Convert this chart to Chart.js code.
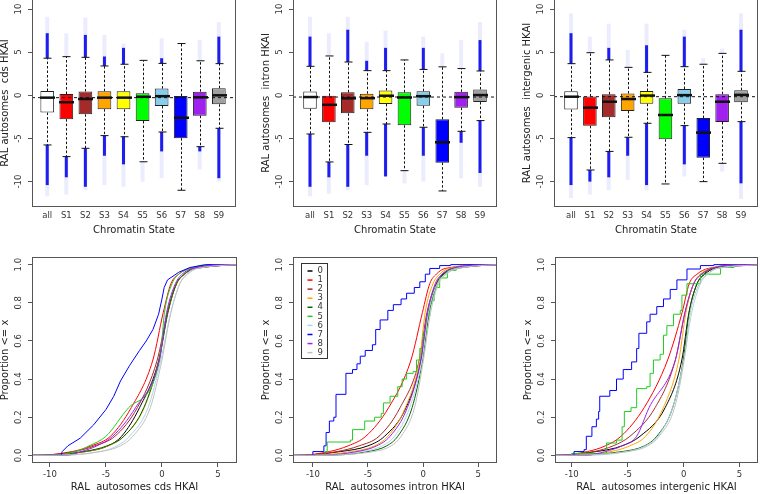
<!DOCTYPE html>
<html lang="en">
<head>
<meta charset="UTF-8" />
<title>HKAI by chromatin state</title>
<script src="https://cdn.jsdelivr.net/npm/chart.js"></script>
<style>
  html, body { margin: 0; padding: 0; background: #fff; }
  body { width: 760px; height: 494px; position: relative; overflow: hidden; }
  canvas { position: absolute; }
</style>
</head>
<body>
<canvas id="boxCds"></canvas>
<canvas id="boxIntron"></canvas>
<canvas id="boxInter"></canvas>
<canvas id="ecdfCds"></canvas>
<canvas id="ecdfIntron"></canvas>
<canvas id="ecdfInter"></canvas>
<script>
const STATES = ['all', 'S1', 'S2', 'S3', 'S4', 'S5', 'S6', 'S7', 'S8', 'S9'];
const CURVE_LABELS = ['0', '1', '2', '3', '4', '5', '6', '7', '8', '9'];
const BOX_Y_TICKS = [-10, -5, 0, 5, 10];
const ECDF_X_TICKS = [-10, -5, 0, 5];
const ECDF_Y_TICKS = [0, 0.2, 0.4, 0.6, 0.8, 1];
// proportion levels of the quantile rows below
const PROBS = [0, 0.02, 0.05, 0.1, 0.25, 0.5, 0.75, 0.9, 0.95, 0.98, 1];

// boxplots: [lower whisker, Q1, median, Q3, upper whisker]
const cdsBox = [
  [-5.75, -2.0, -0.27, 0.5, 4.3],
  [-7.1, -2.76, -0.8, 0.15, 4.48],
  [-6.14, -2.2, -0.43, 0.45, 4.4],
  [-4.67, -1.6, -0.27, 0.48, 3.4],
  [-4.8, -1.62, -0.27, 0.48, 3.6],
  [-7.7, -2.98, -0.17, 0.25, 4.05],
  [-4.25, -1.24, -0.1, 0.78, 3.7],
  [-11.0, -4.96, -2.6, -0.08, 6.0],
  [-5.95, -2.36, -0.23, 0.42, 4.0],
  [-3.82, -1.04, 0.0, 0.82, 3.67]
];
const intronBox = [
  [-4.48, -1.55, -0.2, 0.45, 3.36],
  [-7.72, -3.13, -1.1, -0.06, 4.56],
  [-5.7, -2.09, -0.35, 0.35, 3.86],
  [-4.29, -1.62, -0.33, 0.19, 2.86],
  [-3.32, -1.0, -0.05, 0.56, 2.86],
  [-8.73, -3.47, -0.25, 0.35, 4.1],
  [-3.7, -1.22, -0.1, 0.48, 3.0],
  [-11.08, -7.8, -5.44, -2.78, 3.3],
  [-4.17, -1.43, -0.21, 0.4, 3.1],
  [-2.93, -0.78, 0.03, 0.68, 2.82]
];
const intergenicBox = [
  [-4.9, -1.65, -0.16, 0.48, 3.67],
  [-8.65, -3.53, -1.43, -0.13, 4.94],
  [-6.5, -2.55, -0.74, 0.12, 4.1],
  [-4.86, -1.81, -0.43, 0.21, 3.24],
  [-3.24, -0.98, -0.03, 0.5, 2.66],
  [-10.27, -5.1, -2.28, -0.35, 4.63],
  [-3.51, -0.98, 0.02, 0.73, 3.32],
  [-10.0, -7.22, -4.32, -2.63, 3.6],
  [-7.88, -3.09, -0.74, 0.13, 4.86],
  [-3.05, -0.81, 0.05, 0.6, 2.78]
];

// outliers: [lowest, end of dense low run, end of dense high run, highest]
const cdsOut = [
  [-11.7, -10.4, 7.2, 9.1],
  [-11.5, -9.5, 4.48, 7.2],
  [-11.0, -10.6, 7.0, 9.0],
  [-10.4, -7.0, 4.5, 7.0],
  [-10.6, -8.0, 5.5, 6.0],
  [-10.0, -7.7, 4.05, 4.05],
  [-9.6, -6.5, 4.3, 6.6],
  [-11.0, -11.0, 6.0, 6.0],
  [-8.6, -6.5, 4.0, 6.4],
  [-10.0, -9.6, 6.8, 8.5]
];
const intronOut = [
  [-11.7, -10.6, 6.8, 9.1],
  [-11.4, -9.5, 4.56, 7.2],
  [-11.0, -10.6, 7.6, 9.1],
  [-10.4, -7.0, 4.0, 6.2],
  [-9.4, -9.4, 5.5, 7.5],
  [-10.2, -8.73, 4.1, 4.1],
  [-10.0, -7.0, 5.5, 6.8],
  [-11.08, -11.08, 3.3, 4.86],
  [-9.6, -5.5, 3.1, 6.4],
  [-10.6, -9.0, 6.4, 8.5]
];
const intergenicOut = [
  [-11.9, -10.4, 7.2, 9.5],
  [-11.5, -10.0, 4.94, 6.8],
  [-11.0, -9.5, 5.5, 8.3],
  [-9.8, -7.0, 3.24, 5.25],
  [-11.0, -10.4, 5.8, 8.3],
  [-10.27, -10.27, 4.63, 4.63],
  [-9.4, -8.0, 6.8, 7.6],
  [-10.0, -10.0, 3.6, 4.3],
  [-8.84, -7.88, 4.86, 5.4],
  [-12.0, -10.2, 7.6, 9.5]
];

// ECDF quantiles at PROBS for each state (null = traced separately below)
const cdsEcdf = [
  [-11.7, -6.8, -4.8, -3.6, -2.0, -0.27, 0.54, 1.3, 2.0, 3.0, 9.1],
  [-11.5, -8.0, -6.3, -4.6, -2.74, -0.81, 0.12, 0.8, 1.5, 2.5, 7.2],
  [-11.0, -7.8, -6.0, -4.2, -2.2, -0.42, 0.5, 1.3, 2.0, 3.0, 9.0],
  [-10.4, -6.8, -4.8, -3.4, -1.58, -0.27, 0.5, 1.3, 2.0, 2.8, 7.0],
  [-10.6, -7.0, -4.9, -3.4, -1.62, -0.27, 0.5, 1.3, 2.0, 2.8, 6.0],
  [-10.0, -7.7, -6.5, -5.0, -2.97, -0.19, 0.23, 0.9, 1.5, 2.5, 4.05],
  [-9.6, -5.5, -4.0, -2.9, -1.24, -0.1, 0.8, 1.6, 2.2, 3.0, 6.6],
  null,
  [-8.6, -7.2, -5.8, -4.4, -2.36, -0.23, 0.42, 1.2, 1.8, 2.8, 6.4],
  [-10.0, -5.5, -3.7, -2.6, -1.04, 0.0, 0.8, 1.6, 2.3, 3.2, 8.5]
];
const intronEcdf = [
  [-11.7, -7.5, -5.0, -3.5, -1.55, -0.2, 0.45, 1.2, 1.8, 2.8, 9.1],
  [-11.4, -8.5, -6.8, -5.2, -3.13, -1.1, -0.06, 0.6, 1.2, 2.0, 7.2],
  [-11.0, -7.8, -5.8, -4.0, -2.09, -0.35, 0.35, 1.2, 1.9, 3.0, 9.1],
  [-10.4, -6.5, -4.4, -3.2, -1.62, -0.33, 0.19, 0.9, 1.5, 2.3, 6.2],
  [-9.4, -5.0, -3.3, -2.3, -1.0, -0.05, 0.56, 1.3, 1.9, 2.7, 7.5],
  null,
  [-10.0, -5.5, -3.7, -2.6, -1.22, -0.1, 0.48, 1.3, 2.0, 2.9, 6.8],
  null,
  [-9.6, -6.0, -4.2, -3.0, -1.43, -0.21, 0.4, 1.1, 1.7, 2.6, 6.4],
  [-10.6, -4.5, -2.9, -2.0, -0.78, 0.03, 0.68, 1.4, 2.1, 3.2, 8.5]
];
const intergenicEcdf = [
  [-11.9, -7.8, -5.5, -3.9, -1.65, -0.16, 0.48, 1.2, 1.9, 2.8, 9.5],
  [-11.5, -8.6, -7.0, -5.6, -3.53, -1.43, -0.13, 0.5, 1.2, 2.2, 6.8],
  [-11.0, -8.0, -6.3, -4.8, -2.55, -0.74, 0.12, 0.9, 1.6, 2.6, 8.3],
  [-9.8, -6.5, -4.8, -3.4, -1.81, -0.43, 0.21, 0.9, 1.5, 2.4, 5.25],
  [-11.0, -5.5, -3.5, -2.4, -0.98, -0.03, 0.5, 1.2, 1.8, 2.6, 8.3],
  null,
  [-9.4, -5.0, -3.4, -2.3, -0.98, 0.02, 0.73, 1.5, 2.2, 3.0, 7.6],
  null,
  [-8.84, -7.0, -5.5, -4.2, -3.09, -0.74, 0.13, 0.9, 1.6, 2.5, 5.4],
  [-12.0, -5.0, -3.2, -2.2, -0.81, 0.05, 0.6, 1.4, 2.1, 3.0, 9.5]
];

// traced ECDF corners [x, proportion] for the coarse, stepwise states
const cdsCurve7 = [[-12, 0], [-9.0, 0], [-8.9, 0.02], [-8.4, 0.05], [-7.3, 0.09], [-6.1, 0.16], [-5.0, 0.24],
  [-4.3, 0.31], [-3.7, 0.39], [-2.9, 0.47], [-2.0, 0.55], [-1.4, 0.6], [-0.8, 0.66], [-0.3, 0.74], [0.0, 0.82],
  [0.2, 0.88], [0.5, 0.92], [1.5, 0.96], [2.5, 0.985], [4.0, 1], [10, 1]];
const intronCurve5 = [[-12, 0], [-8.9, 0.02], [-8.7, 0.07], [-6.6, 0.08], [-6.4, 0.135], [-5.3, 0.18], [-4.4, 0.2],
  [-3.8, 0.22], [-3.6, 0.275], [-3.0, 0.31], [-2.3, 0.36], [-1.9, 0.4], [-1.5, 0.43], [-0.9, 0.44], [-0.6, 0.5],
  [-0.3, 0.56], [0.0, 0.64], [0.3, 0.73], [0.6, 0.81], [1.0, 0.88], [1.5, 0.93], [2.2, 0.97], [3.0, 0.99], [4.2, 1], [10, 1]];
const intronCurve7 = [[-12, 0], [-10.0, 0.02], [-9.0, 0.05], [-8.8, 0.12], [-8.5, 0.18], [-8.1, 0.2], [-7.9, 0.32],
  [-7.0, 0.43], [-6.4, 0.45], [-6.0, 0.48], [-5.7, 0.52], [-5.25, 0.55], [-4.6, 0.58], [-4.3, 0.66], [-3.9, 0.71],
  [-3.2, 0.76], [-2.7, 0.79], [-2.0, 0.82], [-1.5, 0.85], [-0.8, 0.88], [-0.3, 0.91], [0.2, 0.95], [0.6, 0.98],
  [1.5, 0.995], [2.5, 1], [10, 1]];
const intergenicCurve5 = [[-12, 0], [-10.0, 0.01], [-6.9, 0.065], [-6.0, 0.08], [-5.5, 0.15], [-5.3, 0.23], [-4.7, 0.25],
  [-4.2, 0.35], [-3.3, 0.36], [-3.0, 0.43], [-2.7, 0.5], [-2.1, 0.53], [-1.8, 0.63], [-1.5, 0.68], [-0.9, 0.74],
  [-0.3, 0.76], [-0.15, 0.84], [0.3, 0.9], [1.5, 0.95], [3.3, 0.985], [4.5, 1], [10, 1]];
const intergenicCurve7 = [[-12, 0], [-9.8, 0.02], [-8.9, 0.03], [-8.7, 0.1], [-8.2, 0.15], [-7.8, 0.19], [-7.6, 0.23],
  [-7.5, 0.31], [-6.6, 0.34], [-6.0, 0.4], [-5.4, 0.45], [-4.65, 0.49], [-4.2, 0.56], [-4.0, 0.64], [-3.3, 0.7],
  [-3.0, 0.74], [-2.4, 0.78], [-1.8, 0.82], [-1.2, 0.87], [-0.6, 0.92], [0.3, 0.977], [1.5, 0.995], [2.7, 1], [10, 1]];

const BOX_FILL = ['#ffffff', '#ff0000', '#a52a2a', '#ffa500', '#ffff00', '#00ff00', '#87ceeb', '#0000ff', '#a020f0', '#a0a0a0'];
const LINE_COLORS = ['#000000', '#ff0000', '#a52a2a', '#ffa500', '#006400', '#22cc22', '#add8e6', '#0000ff', '#a020f0', '#c0c0c0'];
const FAMILY = '"DejaVu Sans", sans-serif';
const TICK_FONT = { family: FAMILY, size: 8.5 };
const TITLE_FONT = { family: FAMILY, size: 10 };

function place(id, left, top, width, height) {
  const c = document.getElementById(id);
  c.width = width;
  c.height = height;
  c.style.left = left + 'px';
  c.style.top = top + 'px';
  return c;
}

// box round the plot region
const frame = {
  id: 'frame',
  afterDraw(chart) {
    const a = chart.chartArea, ctx = chart.ctx;
    ctx.save();
    ctx.strokeStyle = '#555';
    ctx.lineWidth = 1;
    ctx.strokeRect(Math.round(a.left) + 0.5, Math.round(a.top) + 0.5, Math.round(a.width) - 1, Math.round(a.height) - 1);
    ctx.restore();
  }
};

// y tick labels written parallel to the axis, as R does
const sideLabels = {
  id: 'sideLabels',
  afterDraw(chart) {
    const ys = chart.scales.y, ctx = chart.ctx, x = chart.chartArea.left - 13;
    ctx.save();
    ctx.font = '8.5px ' + FAMILY;
    ctx.fillStyle = '#333';
    ctx.textAlign = 'center';
    ctx.textBaseline = 'middle';
    ys.ticks.forEach(t => {
      ctx.save();
      ctx.translate(x, ys.getPixelForValue(t.value));
      ctx.rotate(-Math.PI / 2);
      ctx.fillText(t.label, 0, 0);
      ctx.restore();
    });
    ctx.restore();
  }
};

// whiskers, staples, medians and the dashed line at the overall median
const boxMarks = {
  id: 'boxMarks',
  afterDatasetsDraw(chart) {
    const ds = chart.data.datasets.find(d => d.stats);
    const xs = chart.scales.x, ys = chart.scales.y, a = chart.chartArea, ctx = chart.ctx;
    const py = v => ys.getPixelForValue(v);
    ctx.save();
    ctx.beginPath();
    ctx.rect(a.left, a.top, a.width, a.height);
    ctx.clip();
    ctx.strokeStyle = '#111';
    ds.stats.forEach((s, i) => {
      const x = Math.round(xs.getPixelForValue(i + 1)) + 0.5;
      ctx.lineWidth = 1;
      ctx.setLineDash([2.5, 2]);
      ctx.beginPath();
      ctx.moveTo(x, py(s[3])); ctx.lineTo(x, py(s[4]));
      ctx.moveTo(x, py(s[1])); ctx.lineTo(x, py(s[0]));
      ctx.stroke();
      ctx.setLineDash([]);
      ctx.beginPath();
      ctx.moveTo(x - 4, py(s[4])); ctx.lineTo(x + 4, py(s[4]));
      ctx.moveTo(x - 4, py(s[0])); ctx.lineTo(x + 4, py(s[0]));
      ctx.stroke();
      ctx.lineWidth = 2.5;
      ctx.beginPath();
      ctx.moveTo(x - 7.5, py(s[2])); ctx.lineTo(x + 7.5, py(s[2]));
      ctx.stroke();
    });
    const yr = py(ds.stats[0][2]);
    ctx.lineWidth = 1;
    ctx.setLineDash([3, 3]);
    ctx.beginPath();
    ctx.moveTo(a.left, yr); ctx.lineTo(a.right, yr);
    ctx.stroke();
    ctx.restore();
  }
};

// legend box in the top-left corner of the middle ECDF panel
const insetLegend = {
  id: 'insetLegend',
  afterDraw(chart) {
    const a = chart.chartArea, ctx = chart.ctx;
    const left = Math.round(a.left + 8) + 0.5, top = Math.round(a.top + 6) + 0.5;
    ctx.save();
    ctx.fillStyle = '#fff';
    ctx.fillRect(left, top, 26, 95);
    ctx.strokeStyle = '#333';
    ctx.lineWidth = 1;
    ctx.strokeRect(left, top, 26, 95);
    ctx.font = '8.5px ' + FAMILY;
    ctx.textBaseline = 'middle';
    ctx.textAlign = 'left';
    chart.data.datasets.forEach((ds, i) => {
      const y = top + 7.5 + i * 9.07;
      ctx.strokeStyle = ds.borderColor;
      ctx.lineWidth = 1.5;
      ctx.beginPath();
      ctx.moveTo(left + 6, y); ctx.lineTo(left + 11, y);
      ctx.stroke();
      ctx.fillStyle = '#333';
      ctx.fillText(ds.label, left + 16, y);
    });
    ctx.restore();
  }
};

function axisBits(title, ticksCb, tickValues, showLabels, titlePad, drawTicks, labelPad) {
  return {
    afterBuildTicks: sc => { sc.ticks = tickValues.map(v => ({ value: v })); },
    ticks: { display: showLabels, callback: ticksCb, font: TICK_FONT, color: '#333', padding: labelPad, maxRotation: 0, autoSkip: false },
    grid: { drawOnChartArea: false, drawTicks: drawTicks, tickLength: 4, color: '#555', offset: false },
    border: { display: false },
    title: { display: true, text: title, font: TITLE_FONT, color: '#222', padding: titlePad }
  };
}

function boxChart(id, plotLeft, xMin, stats, outl, yTitle) {
  const canvas = place(id, plotLeft - 33, -1, 33 + 204 + 3, 238);
  const sparse = [], dense = [];
  stats.forEach((s, i) => {
    const o = outl[i];
    if (o[3] > s[4]) sparse.push({ x: i + 1, y: [s[4], o[3]] });
    if (o[0] < s[0]) sparse.push({ x: i + 1, y: [o[0], s[0]] });
    if (o[2] > s[4]) dense.push({ x: i + 1, y: [s[4], o[2]] });
    if (o[1] < s[0]) dense.push({ x: i + 1, y: [o[1], s[0]] });
  });
  return new Chart(canvas, {
    type: 'bar',
    data: {
      datasets: [
        { data: sparse, backgroundColor: 'rgba(40,40,255,0.09)', borderWidth: 0, maxBarThickness: 4, grouped: false, order: 3 },
        { data: dense, backgroundColor: 'rgba(0,0,235,0.88)', borderWidth: 0, maxBarThickness: 3, grouped: false, order: 2 },
        {
          data: stats.map((s, i) => ({ x: i + 1, y: [s[1], s[3]] })), stats: stats,
          backgroundColor: BOX_FILL, borderColor: '#222', borderWidth: 1, borderSkipped: false,
          maxBarThickness: 15, grouped: false, order: 1
        }
      ]
    },
    options: {
      responsive: false,
      animation: false,
      events: [],
      layout: { padding: { right: 3 } },
      plugins: { legend: { display: false }, tooltip: { enabled: false } },
      scales: {
        x: Object.assign({ type: 'linear', min: xMin, max: 10.9, offset: false, afterFit: sc => { sc.height = 30; } },
          axisBits('Chromatin State', v => STATES[v - 1], STATES.map((_, i) => i + 1), true, { top: 0, bottom: 1 }, false, 4)),
        y: Object.assign({ type: 'linear', min: -12.94, max: 11.16, afterFit: sc => { sc.width = 33; } },
          axisBits(yTitle, v => String(v), BOX_Y_TICKS, false, 0, true, 1))
      }
    },
    plugins: [boxMarks, sideLabels, frame]
  });
}

function ecdfChart(id, plotLeft, plotWidth, xMin, xMax, rows, traced, stepped, xTitle, withLegend) {
  const canvas = place(id, plotLeft - 33, 257, 33 + plotWidth + 2, 237);
  const datasets = CURVE_LABELS.map((lab, i) => {
    const row = rows[i];
    const pts = row
      ? [{ x: -20, y: 0 }].concat(PROBS.map((p, k) => ({ x: row[k], y: p })), [{ x: 20, y: 1 }])
      : traced[i].map(([x, y]) => ({ x, y }));
    return {
      label: lab, data: pts, borderColor: LINE_COLORS[i], borderWidth: 1, pointRadius: 0, fill: false,
      cubicInterpolationMode: row ? 'monotone' : 'default', tension: 0,
      stepped: !row && stepped, order: 10 - i
    };
  });
  const plugins = [sideLabels, frame];
  if (withLegend) plugins.push(insetLegend);
  return new Chart(canvas, {
    type: 'line',
    data: { datasets },
    options: {
      responsive: false,
      animation: false,
      events: [],
      layout: { padding: { right: 2 } },
      plugins: { legend: { display: false }, tooltip: { enabled: false } },
      scales: {
        x: Object.assign({ type: 'linear', min: xMin, max: xMax, offset: false, afterFit: sc => { sc.height = 31; } },
          axisBits(xTitle, v => String(v), ECDF_X_TICKS, true, { top: 0, bottom: 1 }, true, 3)),
        y: Object.assign({ type: 'linear', min: -0.04, max: 1.04, afterFit: sc => { sc.width = 33; } },
          axisBits('Proportion <= x', v => v.toFixed(1), ECDF_Y_TICKS, false, 0, true, 1))
      }
    },
    plugins
  });
}

boxChart('boxCds', 32, 0.2, cdsBox, cdsOut, 'RAL autosomes  cds HKAI');
boxChart('boxIntron', 293, 0.1, intronBox, intronOut, 'RAL autosomes  intron HKAI');
boxChart('boxInter', 554, 0.1, intergenicBox, intergenicOut, 'RAL autosomes  intergenic HKAI');

ecdfChart('ecdfCds', 32, 205, -11.6, 6.7, cdsEcdf, { 7: cdsCurve7 }, false, 'RAL  autosomes cds HKAI', false);
ecdfChart('ecdfIntron', 293, 204, -11.8, 6.7, intronEcdf, { 5: intronCurve5, 7: intronCurve7 }, true, 'RAL  autosomes intron HKAI', true);
ecdfChart('ecdfInter', 555, 203, -11.5, 6.65, intergenicEcdf, { 5: intergenicCurve5, 7: intergenicCurve7 }, true, 'RAL  autosomes intergenic HKAI', false);
</script>
</body>
</html>
